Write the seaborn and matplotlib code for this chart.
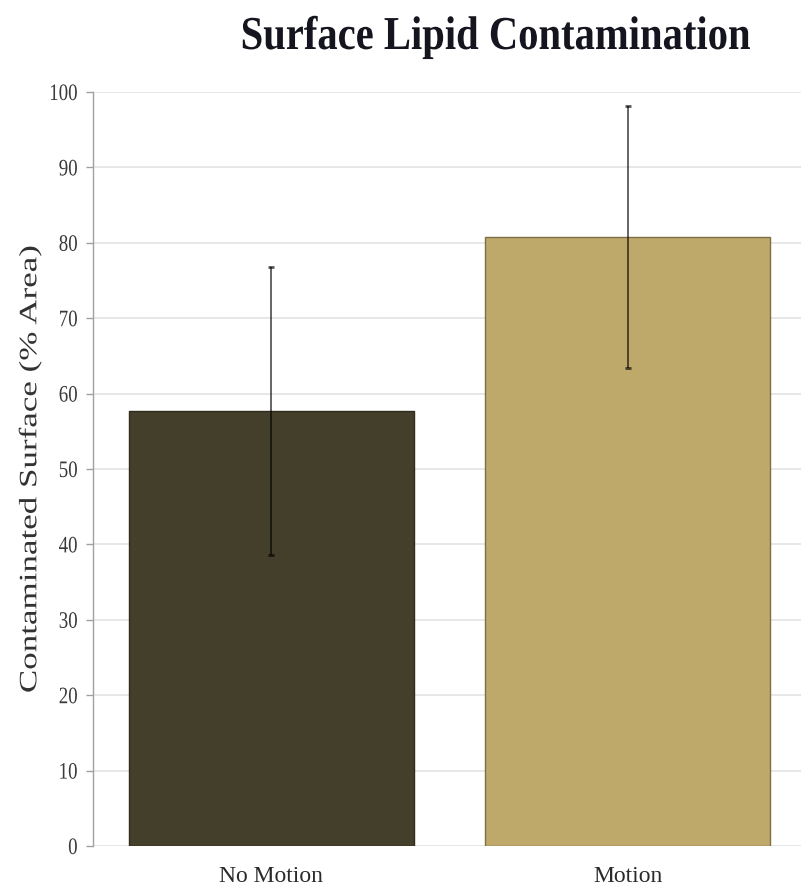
import matplotlib
matplotlib.use("Agg")
import matplotlib.pyplot as plt
import pandas as pd
import seaborn as sns
from matplotlib.patheffects import AbstractPathEffect
from matplotlib.transforms import Affine2D

# Mean contaminated area per condition, with standard deviation
categories = ["No Motion", "Motion"]
mean_area = [57.7, 80.8]
sd_area = [19.1, 17.4]
bar_colors = ["#433f2a", "#bfa96a"]
edge_colors = ["#2f2c1d", "#7d6e44"]
y_ticks = list(range(0, 101, 10))


class Reshape(AbstractPathEffect):
    """Scale glyph outlines about the text box to narrow or widen the type."""

    def __init__(self, sx=1.0, sy=1.0, anchor="center"):
        super().__init__()
        self.sx, self.sy, self.anchor = sx, sy, anchor

    def draw_path(self, renderer, gc, tpath, affine, rgbFace=None):
        ext = tpath.get_extents(affine)
        ox = ext.x1 if self.anchor == "right" else 0.5 * (ext.x0 + ext.x1)
        oy = 0.5 * (ext.y0 + ext.y1)
        t = affine + Affine2D().translate(-ox, -oy).scale(self.sx, self.sy).translate(ox, oy)
        renderer.draw_path(gc, tpath, t, rgbFace)


sns.set_theme(style="whitegrid")
plt.rcParams["font.family"] = ["Liberation Serif", "DejaVu Serif"]

W, H = 801, 887
fig = plt.figure(figsize=(W / 100, H / 100), dpi=100)
ax = fig.add_axes([93 / W, 1 - 847 / H, 713 / W, (847 - 93) / H])

df = pd.DataFrame({"condition": categories, "area": mean_area})
sns.barplot(data=df, x="condition", y="area", hue="condition",
            palette=bar_colors, legend=False, errorbar=None, width=0.8,
            saturation=1, linewidth=1, ax=ax, zorder=2)
for patch, ec in zip(ax.patches, edge_colors):
    patch.set_edgecolor(ec)

ax.errorbar(range(len(categories)), mean_area, yerr=sd_area, fmt="none",
            ecolor="black", alpha=0.65, elinewidth=1.3, capsize=2.5,
            capthick=2, zorder=3)

ax.set_xlim(-0.5, 1.5)
ax.set_ylim(0, 100)
ax.set_yticks(y_ticks)
ax.grid(axis="y", color="#e3e3e3", linewidth=1.2)
ax.grid(axis="x", visible=False)
ax.set_axisbelow(True)
for side in ["top", "right", "bottom"]:
    ax.spines[side].set_visible(False)
ax.spines["left"].set_color("#a0a0a0")
ax.spines["left"].set_linewidth(1)

ax.tick_params(axis="y", left=True, length=5, width=1, color="#a0a0a0",
               labelsize=17, labelcolor="#3a3a3a", pad=6)
ax.tick_params(axis="x", length=0, labelsize=17, labelcolor="#2a2a2a", pad=13.5)
for lbl in ax.get_yticklabels():
    lbl.set_path_effects([Reshape(sx=0.8, anchor="right")])

ax.set_xlabel("")
ax.set_ylabel("Contaminated Surface (% Area)", fontsize=18, color="#333333",
              va="center")
ax.yaxis.label.set_path_effects([Reshape(sy=1.4)])
ax.yaxis.set_label_coords((30 - 93) / 713, 0.5)

fig.text(495.5 / W, 1 - 50 / H, "Surface Lipid Contamination", fontsize=34,
         fontweight="bold", color="#15151f", ha="center", va="baseline",
         path_effects=[Reshape(sx=0.86)])

fig.savefig("out.png", dpi=100)
